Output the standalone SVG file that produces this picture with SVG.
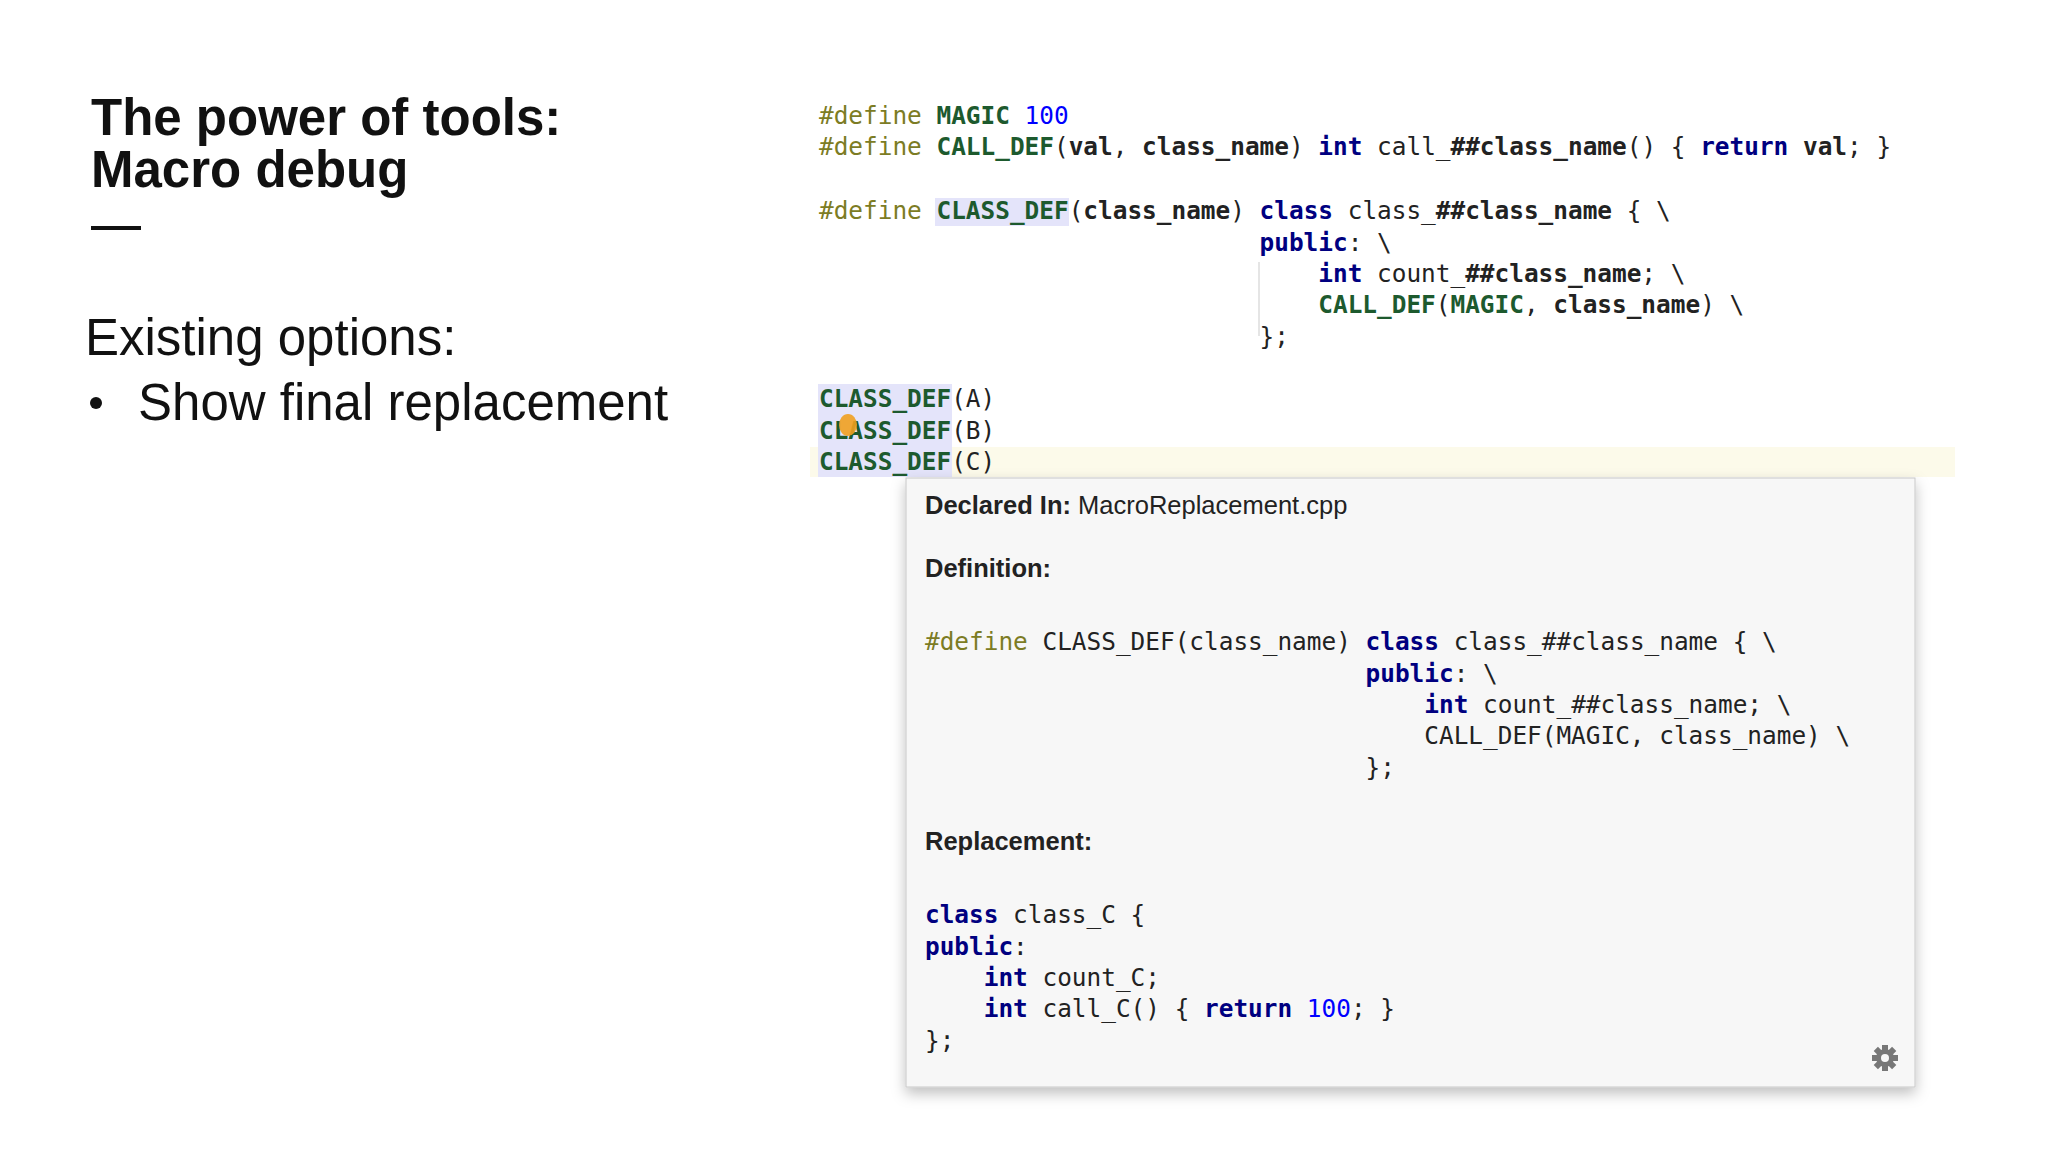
<svg xmlns="http://www.w3.org/2000/svg" width="2048" height="1152" viewBox="0 0 2048 1152">
<defs>
<style>
.t{font-family:"Liberation Sans",Arial,sans-serif;fill:#111}
.c{font-family:"DejaVu Sans Mono",monospace;font-size:24.4px;fill:#222;white-space:pre}
.pp{fill:#7c7c24}.mac{fill:#1d5a2e;font-weight:bold}.kw{fill:#000080;font-weight:bold}.num{fill:#0000ff}.b{font-weight:bold}
.h{font-family:"Liberation Sans",Arial,sans-serif;font-size:25.5px;fill:#222}
</style>
<filter id="sh" x="-5%" y="-5%" width="110%" height="115%"><feDropShadow dx="0" dy="6" stdDeviation="7" flood-color="#000" flood-opacity="0.25"/></filter>
</defs>
<rect width="2048" height="1152" fill="#fff"/>
<g id="title">
<text class="t" x="91" y="135" font-size="51" font-weight="bold">The power of tools:</text>
<text class="t" x="91" y="187" font-size="51" font-weight="bold">Macro debug</text>
<rect x="91" y="226" width="50" height="4" fill="#111"/>
</g>
<g id="options">
<text class="t" x="85" y="355" font-size="51">Existing options:</text>
<circle cx="96" cy="403" r="6" fill="#111"/>
<text class="t" x="138" y="420" font-size="51">Show final replacement</text>
</g>
<g id="editor">
<rect x="810" y="447" width="1145" height="30" fill="#fcfaea"/>
<rect x="935" y="198" width="134" height="28" fill="#e4e4fa"/>
<rect x="818" y="384" width="134" height="93" fill="#e4e4fa"/>
<line x1="1259" y1="262" x2="1259" y2="336" stroke="#ddd" stroke-width="1.5"/>
<text class="c" x="819" y="124"><tspan class="pp">#define</tspan> <tspan class="mac">MAGIC</tspan> <tspan class="num">100</tspan></text>
<text class="c" x="819" y="155"><tspan class="pp">#define</tspan> <tspan class="mac">CALL_DEF</tspan>(<tspan class="b">val</tspan>, <tspan class="b">class_name</tspan>) <tspan class="kw">int</tspan> call_<tspan class="b">##class_name</tspan>() { <tspan class="kw">return</tspan> <tspan class="b">val</tspan>; }</text>
<text class="c" x="819" y="219"><tspan class="pp">#define</tspan> <tspan class="mac">CLASS_DEF</tspan>(<tspan class="b">class_name</tspan>) <tspan class="kw">class</tspan> class_<tspan class="b">##class_name</tspan> { \</text>
<text class="c" x="819" y="251">                              <tspan class="kw">public</tspan>: \</text>
<text class="c" x="819" y="282">                                  <tspan class="kw">int</tspan> count_<tspan class="b">##class_name</tspan>; \</text>
<text class="c" x="819" y="313">                                  <tspan class="mac">CALL_DEF</tspan>(<tspan class="mac">MAGIC</tspan>, <tspan class="b">class_name</tspan>) \</text>
<text class="c" x="819" y="345">                              };</text>
<text class="c" x="819" y="407"><tspan class="mac">CLASS_DEF</tspan>(A)</text>
<text class="c" x="819" y="439"><tspan class="mac">CLASS_DEF</tspan>(B)</text>
<text class="c" x="819" y="470"><tspan class="mac">CLASS_DEF</tspan>(C)</text>
<ellipse cx="848" cy="425" rx="9" ry="11" fill="#f0a020" opacity="0.9"/>
</g>
<g id="popup">
<rect x="906" y="478" width="1009" height="609" fill="#f7f7f7" stroke="#c8c8c8" filter="url(#sh)"/>
<text class="h" x="925" y="514"><tspan font-weight="bold">Declared In:</tspan> MacroReplacement.cpp</text>
<text class="h" x="925" y="577" font-weight="bold">Definition:</text>
<text class="c" x="925" y="650"><tspan class="pp">#define</tspan> CLASS_DEF(class_name) <tspan class="kw">class</tspan> class_##class_name { \</text>
<text class="c" x="925" y="682">                              <tspan class="kw">public</tspan>: \</text>
<text class="c" x="925" y="713">                                  <tspan class="kw">int</tspan> count_##class_name; \</text>
<text class="c" x="925" y="744">                                  CALL_DEF(MAGIC, class_name) \</text>
<text class="c" x="925" y="776">                              };</text>
<text class="h" x="925" y="850" font-weight="bold">Replacement:</text>
<text class="c" x="925" y="923"><tspan class="kw">class</tspan> class_C {</text>
<text class="c" x="925" y="955"><tspan class="kw">public</tspan>:</text>
<text class="c" x="925" y="986">    <tspan class="kw">int</tspan> count_C;</text>
<text class="c" x="925" y="1017">    <tspan class="kw">int</tspan> call_C() { <tspan class="kw">return</tspan> <tspan class="num">100</tspan>; }</text>
<text class="c" x="925" y="1049">};</text>
<g transform="translate(1885,1058)" fill="#777">
<circle r="9"/>
<g><rect x="-3" y="-13" width="6" height="26"/><rect x="-3" y="-13" width="6" height="26" transform="rotate(45)"/><rect x="-3" y="-13" width="6" height="26" transform="rotate(90)"/><rect x="-3" y="-13" width="6" height="26" transform="rotate(135)"/></g>
<circle r="4" fill="#f7f7f7"/>
</g>
</g>
</svg>
